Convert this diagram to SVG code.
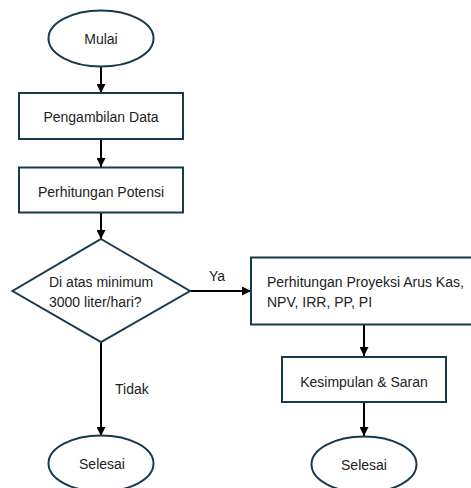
<svg xmlns="http://www.w3.org/2000/svg" width="471" height="488" viewBox="0 0 471 488">
<defs>
<marker id="ah" viewBox="0 0 10 10" refX="10" refY="5" markerWidth="4.5" markerHeight="4.5" orient="auto" markerUnits="strokeWidth">
<path d="M0,0 L10,5 L0,10 z" fill="#000"/>
</marker>
<style>
.s{fill:#fff;stroke:#163a4e;stroke-width:2}
.t{font-family:"Liberation Sans",Arial,sans-serif;font-size:14px;fill:#222}
.c{text-anchor:middle}
.e{stroke:#000;stroke-width:2;fill:none;marker-end:url(#ah)}
</style>
</defs>
<rect width="471" height="488" fill="#fff"/>
<g id="connectors">
<line class="e" x1="101" y1="67" x2="101" y2="93"/>
<line class="e" x1="101" y1="139" x2="101" y2="167"/>
<line class="e" x1="101" y1="213" x2="101" y2="239"/>
<line class="e" x1="190" y1="291" x2="251" y2="291"/>
<line class="e" x1="101" y1="342" x2="101" y2="436"/>
<line class="e" x1="364" y1="324" x2="364" y2="356"/>
<line class="e" x1="364" y1="402" x2="364" y2="436"/>
<text class="t" x="209" y="281">Ya</text>
<text class="t" x="115" y="394">Tidak</text>
</g>
<g id="mulai">
<ellipse class="s" cx="101" cy="38.5" rx="52.5" ry="28"/>
<text class="t c" x="101" y="44">Mulai</text>
</g>
<g id="pengambilan">
<rect class="s" x="19" y="93" width="164" height="46"/>
<text class="t c" x="101" y="122">Pengambilan Data</text>
</g>
<g id="potensi">
<rect class="s" x="19" y="167.5" width="164" height="45"/>
<text class="t c" x="101" y="197">Perhitungan Potensi</text>
</g>
<g id="keputusan">
<polygon class="s" points="101,239 190,291 101,342 12.5,291"/>
<text class="t" x="49" y="287">Di atas minimum</text>
<text class="t" x="49" y="307">3000 liter/hari?</text>
</g>
<g id="proyeksi">
<rect class="s" x="251" y="257.5" width="230" height="67"/>
<text class="t" x="267" y="287">Perhitungan Proyeksi Arus Kas,</text>
<text class="t" x="267" y="307">NPV, IRR, PP, PI</text>
</g>
<g id="kesimpulan">
<rect class="s" x="282" y="357" width="164" height="45"/>
<text class="t c" x="364" y="387">Kesimpulan &amp; Saran</text>
</g>
<g id="selesai1">
<ellipse class="s" cx="101" cy="463.5" rx="52.5" ry="28"/>
<text class="t c" x="102" y="469">Selesai</text>
</g>
<g id="selesai2">
<ellipse class="s" cx="364" cy="464.5" rx="52.5" ry="28"/>
<text class="t c" x="364" y="470">Selesai</text>
</g>
</svg>
